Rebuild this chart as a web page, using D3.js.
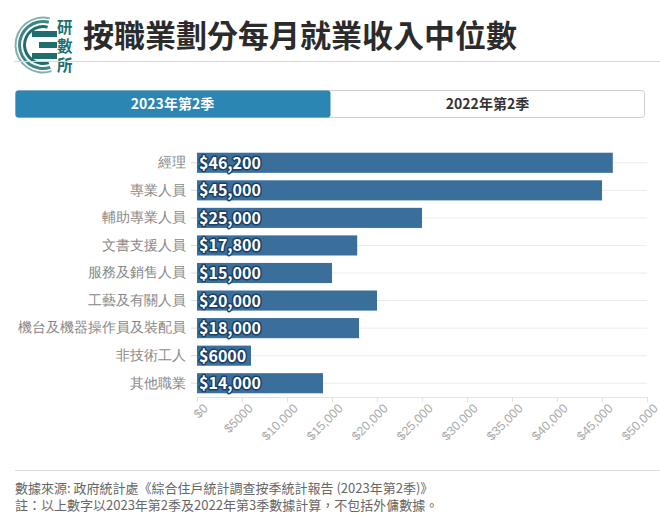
<!DOCTYPE html>
<html>
<head>
<meta charset="utf-8">
<script src="https://cdn.jsdelivr.net/npm/d3@7"></script>
<style>
  html, body { margin: 0; padding: 0; background: #fff; }
  svg { display: block; font-family: "Noto Sans CJK TC", "Noto Sans", sans-serif; }
</style>
</head>
<body>
<div id="chart"></div>
<script>
// data
const categories = ["經理", "專業人員", "輔助專業人員", "文書支援人員", "服務及銷售人員",
  "工藝及有關人員", "機台及機器操作員及裝配員", "非技術工人", "其他職業"];
const incomes2023 = [46200, 45000, 25000, 17800, 15000, 20000, 18000, 6000, 14000];
const xTicks = [0, 5000, 10000, 15000, 20000, 25000, 30000, 35000, 40000, 45000, 50000];
const tabLabels = ["2023年第2季", "2022年第2季"];
const titleText = "按職業劃分每月就業收入中位數";
const footnotes = [
  "數據來源: 政府統計處《綜合住戶統計調查按季統計報告 (2023年第2季)》",
  "註：以上數字以2023年第2季及2022年第3季數據計算，不包括外傭數據。"
];

const width = 660, height = 524;
const barColor = "#3a6f9c";
const tabColor = "#2c86b3";
const teal = "#1e6e70";

// $5000 without comma, $10,000 with
const money = v => "$" + (v < 10000 ? String(v) : d3.format(",")(v));

const svg = d3.select("#chart").append("svg")
  .attr("width", width)
  .attr("height", height);

// logo: C-shaped rings, three bars, vertical name
const logo = svg.append("g").attr("transform", "translate(43,45)");
const arc = d3.arc();
[[26.5, 28.5, 0.55], [22, 25, 0.85], [17, 20, 1]].forEach(([ri, ro, op]) => {
  logo.append("path")
    .attr("d", arc({ innerRadius: ri, outerRadius: ro, startAngle: Math.PI * 0.9, endAngle: Math.PI * 2.08 }))
    .attr("fill", teal)
    .attr("opacity", op);
});
[[-11, -14, 25], [-4, -3, 18], [-11, 8, 25]].forEach(([bx, by, w]) => {
  logo.append("rect").attr("x", bx).attr("y", by).attr("width", w).attr("height", 6).attr("fill", teal);
});
["研", "數", "所"].forEach((ch, i) => {
  logo.append("text")
    .attr("x", 14).attr("y", -12 + i * 19)
    .attr("font-size", 15.5).attr("font-weight", 700)
    .attr("fill", teal)
    .text(ch);
});

// title
svg.append("text")
  .attr("x", 83).attr("y", 47)
  .attr("font-size", 31).attr("font-weight", 700)
  .attr("fill", "#2b2b2b")
  .text(titleText);
svg.append("line")
  .attr("x1", 14).attr("x2", 660).attr("y1", 61.5).attr("y2", 61.5)
  .attr("stroke", "#d9d9d9");

// tabs
const tabX = d3.scaleBand().domain(tabLabels).range([15, 645]);
svg.append("rect")
  .attr("x", 15.5).attr("y", 90.5).attr("width", 629).attr("height", 27)
  .attr("rx", 3).attr("fill", "#fff").attr("stroke", "#cfcfcf");
svg.append("rect")
  .attr("x", tabX(tabLabels[0]) + 0.5).attr("y", 90.5)
  .attr("width", tabX.bandwidth()).attr("height", 27)
  .attr("rx", 3).attr("fill", tabColor);
svg.selectAll(".tab-label")
  .data(tabLabels)
  .enter().append("text")
  .attr("class", "tab-label")
  .attr("x", d => tabX(d) + tabX.bandwidth() / 2)
  .attr("y", 109)
  .attr("text-anchor", "middle")
  .attr("font-size", 14).attr("font-weight", 700)
  .attr("fill", (d, i) => i === 0 ? "#fff" : "#333")
  .text(d => d);

// chart
const x = d3.scaleLinear().domain([0, 50000]).range([197, 647]);
const y = d3.scaleBand().domain(categories).range([149, 397])
  .paddingInner(0.27).paddingOuter(0.135);

const plot = svg.append("g");

// horizontal grid lines through each band
plot.selectAll(".grid")
  .data(categories)
  .enter().append("line")
  .attr("class", "grid")
  .attr("x1", x(0)).attr("x2", x(50000))
  .attr("y1", d => y(d) + y.bandwidth() / 2)
  .attr("y2", d => y(d) + y.bandwidth() / 2)
  .attr("stroke", "#ececec");

// x axis
const xAxis = plot.append("g")
  .attr("transform", `translate(0,${y.range()[1]})`)
  .call(d3.axisBottom(x).tickValues(xTicks).tickFormat(money).tickSize(5).tickSizeOuter(0));
xAxis.select(".domain").attr("stroke", "#e3e3e3");
xAxis.selectAll(".tick line").attr("stroke", "#e3e3e3");
xAxis.selectAll(".tick text")
  .attr("fill", "#aaa")
  .attr("font-size", 12.5)
  .attr("text-anchor", "end")
  .attr("transform", "translate(5,6) rotate(-45)")
  .attr("dy", "0.7em")
  .attr("y", 0);

// y axis
const yAxis = plot.append("g")
  .attr("transform", `translate(${x(0)},0)`)
  .call(d3.axisLeft(y).tickSize(6).tickPadding(5));
yAxis.select(".domain").remove();
yAxis.selectAll(".tick line").attr("stroke", "#ddd");
yAxis.selectAll(".tick text")
  .attr("fill", "#888")
  .attr("font-size", 13.5);

// bars
const rows = categories.map((c, i) => ({ name: c, value: incomes2023[i] }));
plot.selectAll(".bar")
  .data(rows)
  .enter().append("rect")
  .attr("class", "bar")
  .attr("x", x(0))
  .attr("y", d => y(d.name))
  .attr("width", d => x(d.value) - x(0))
  .attr("height", y.bandwidth())
  .attr("fill", barColor);

plot.selectAll(".bar-label")
  .data(rows)
  .enter().append("text")
  .attr("class", "bar-label")
  .attr("x", x(0) + 2)
  .attr("y", d => y(d.name) + y.bandwidth() / 2 + 6)
  .attr("font-size", 16).attr("font-weight", 700)
  .attr("fill", "#fff")
  .attr("stroke", "#1d3f66")
  .attr("stroke-width", 3)
  .attr("stroke-linejoin", "round")
  .attr("paint-order", "stroke")
  .text(d => money(d.value));

// footer
svg.append("line")
  .attr("x1", 15).attr("x2", 660).attr("y1", 470.5).attr("y2", 470.5)
  .attr("stroke", "#dcdcdc");
svg.selectAll(".foot")
  .data(footnotes)
  .enter().append("text")
  .attr("class", "foot")
  .attr("x", 15)
  .attr("y", (d, i) => 493 + i * 17)
  .attr("font-size", 13)
  .attr("fill", "#666")
  .text(d => d);
</script>
</body>
</html>
